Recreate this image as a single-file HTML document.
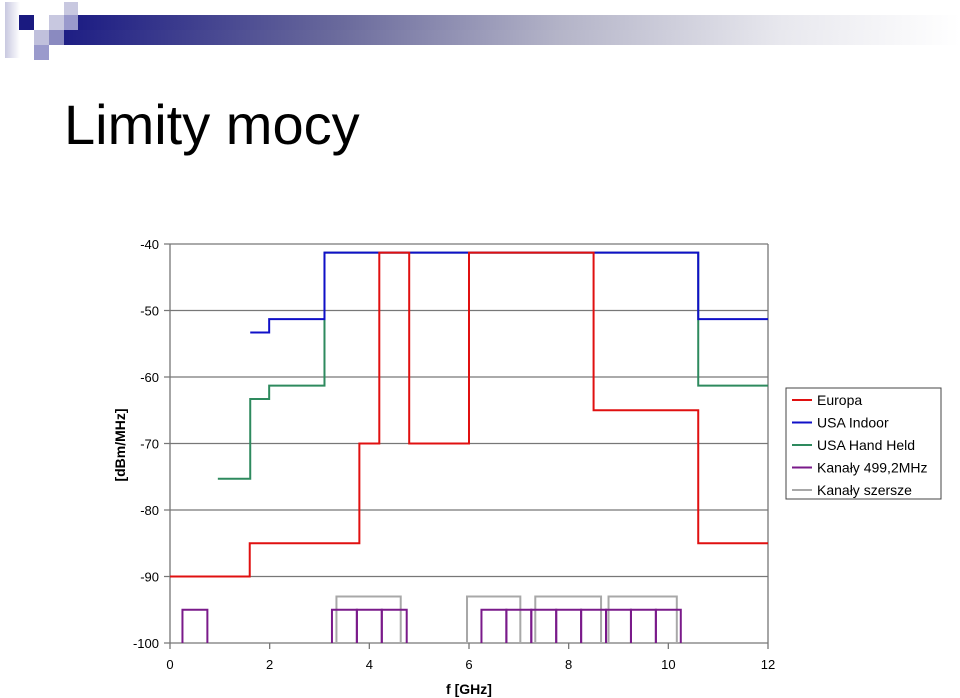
<!DOCTYPE html>
<html><head><meta charset="utf-8"><style>
body{margin:0;width:960px;height:698px;background:#fff;overflow:hidden;font-family:"Liberation Sans",sans-serif;position:relative}
.sq{position:absolute}
</style></head><body>
<div>
<div class="sq" style="left:5px;top:2px;width:15px;height:56px;background:linear-gradient(90deg,#c8c8e0,#fff)"></div>
<div class="sq" style="left:19px;top:15px;width:15px;height:15px;background:#1a1a80"></div>
<div class="sq" style="left:49px;top:15px;width:15px;height:15px;background:#c8c8e0"></div>
<div class="sq" style="left:34px;top:30px;width:15px;height:15px;background:#c0c0dc"></div>
<div class="sq" style="left:49px;top:30px;width:15px;height:15px;background:#8a8ac0"></div>
<div class="sq" style="left:34px;top:45px;width:15px;height:15px;background:#9a9acc"></div>
<div class="sq" style="left:64px;top:2px;width:14px;height:13px;background:#c8c8e0"></div>
<div class="sq" style="left:64px;top:15px;width:14px;height:15px;background:#9a9acc"></div>
<div class="sq" style="left:64px;top:30px;width:896px;height:15px;background:linear-gradient(90deg,#1e1e84,#6a6a9c 30%,#b4b4c8 55%,#e8e8ee 80%,#fff)"></div>
<div class="sq" style="left:78px;top:15px;width:882px;height:15px;background:linear-gradient(90deg,#1e1e84,#6a6a9c 30%,#b4b4c8 55%,#e8e8ee 80%,#fff)"></div>
</div>
<div style="position:absolute;left:64px;top:92px;font-size:56px;color:#000">Limity mocy</div>
<svg id="chart" width="960" height="698" style="position:absolute;left:0;top:0"></svg>
<script>
const yTicks=[-40,-50,-60,-70,-80,-90,-100];
const xTicks=[0,2,4,6,8,10,12];
const seriesNames=["Europa","USA Indoor","USA Hand Held","Kanały 499,2MHz","Kanały szersze"];
const seriesColors=["#e01010","#1010c8","#2e8a5e","#7a1a8a","#a8a8a8"];
// step series: x breakpoints and level after each breakpoint
const europaX=[0,1.6,3.8,4.2,4.8,6.0,8.5,10.6,12];
const europaY=[-90,-85,-70,-41.3,-70,-41.3,-65,-85];
const indoorX=[1.61,1.99,3.1,10.6,12];
const indoorY=[-53.3,-51.3,-41.3,-51.3];
const handX=[0.96,1.61,1.99,3.1,10.6,12];
const handY=[-75.3,-63.3,-61.3,-41.3,-61.3];
const chanStart=[0.25,3.25,3.75,4.25,6.25,6.75,7.25,7.75,8.25,8.75,9.25,9.75];
const chanWidth=0.5;
const chanLevel=-95;
const wideStart=[3.34,5.96,7.33,8.8];
const wideEnd=[4.63,7.03,8.65,10.17];
const wideLevel=-93;
const baseLevel=-100;

const L=170,R=768,T=244,B=643;
const X=v=>L+(v-0)/12*(R-L);
const Y=v=>T+(-40-v)/60*(B-T);
const svg=document.getElementById('chart');
const NS='http://www.w3.org/2000/svg';
function mk(tag,attrs){const e=document.createElementNS(NS,tag);for(const k in attrs)e.setAttribute(k,attrs[k]);svg.appendChild(e);return e;}
yTicks.forEach(v=>{
 const g=mk('line',{x1:L-6,x2:R,y1:Y(v),y2:Y(v),stroke:'#777','stroke-width':1.3});
 
 
 const t=mk('text',{x:L-11,y:Y(v)+5,'text-anchor':'end','font-size':13,'font-family':'Liberation Sans'});
 t.textContent=v;
 
 
});
const ax=mk('line',{x1:L,x2:L,y1:T,y2:B,stroke:'#777','stroke-width':1.3});


const rb=mk('line',{x1:R,x2:R,y1:T,y2:B,stroke:'#777','stroke-width':1.3});


xTicks.forEach(v=>{
 const tk=mk('line',{x1:X(v),x2:X(v),y1:B,y2:B+6,stroke:'#777','stroke-width':1.3});
 
 
 const t=mk('text',{x:X(v),y:B+26,'text-anchor':'middle','font-size':13,'font-family':'Liberation Sans'});
 t.textContent=v;
 
 
});
function step(xs,ys,color,name){
 let d='M'+X(xs[0])+','+Y(ys[0]);
 for(let i=1;i<xs.length;i++){d+=' H'+X(xs[i]);if(i<ys.length)d+=' V'+Y(ys[i]);}
 const p=mk('path',{d:d,fill:'none',stroke:color,'stroke-width':2});
 
 
}
wideStart.forEach((s,i)=>{
 const p=mk('path',{d:`M${X(s)},${Y(baseLevel)} V${Y(wideLevel)} H${X(wideEnd[i])} V${Y(baseLevel)}`,fill:'none',stroke:seriesColors[4],'stroke-width':2});
 
 
});
chanStart.forEach(s=>{
 const p=mk('path',{d:`M${X(s)},${Y(baseLevel)} V${Y(chanLevel)} H${X(s+chanWidth)} V${Y(baseLevel)}`,fill:'none',stroke:seriesColors[3],'stroke-width':2});
 
 
});
step(handX,handY,seriesColors[2],'usa-hand-held-line');
step(indoorX,indoorY,seriesColors[1],'usa-indoor-line');
step(europaX,europaY,seriesColors[0],'europa-line');
// legend
const lg=mk('rect',{x:786,y:388,width:155,height:111,fill:'#fff',stroke:'#444','stroke-width':1});


seriesNames.forEach((n,i)=>{
 const yy=400+i*22.5;
 const l=mk('line',{x1:792,x2:812,y1:yy,y2:yy,stroke:seriesColors[i],'stroke-width':2});
 
 
 const t=mk('text',{x:817,y:yy+5,'font-size':14,'font-family':'Liberation Sans'});
 t.textContent=n;
 
 
});
const yt=mk('text',{x:0,y:0,transform:'translate(125,445) rotate(-90)','text-anchor':'middle','font-size':14,'font-weight':'bold','font-family':'Liberation Sans'});
yt.textContent='[dBm/MHz]';


const xt=mk('text',{x:469,y:694,'text-anchor':'middle','font-size':14,'font-weight':'bold','font-family':'Liberation Sans'});
xt.textContent='f [GHz]';


</script>
</body></html>
